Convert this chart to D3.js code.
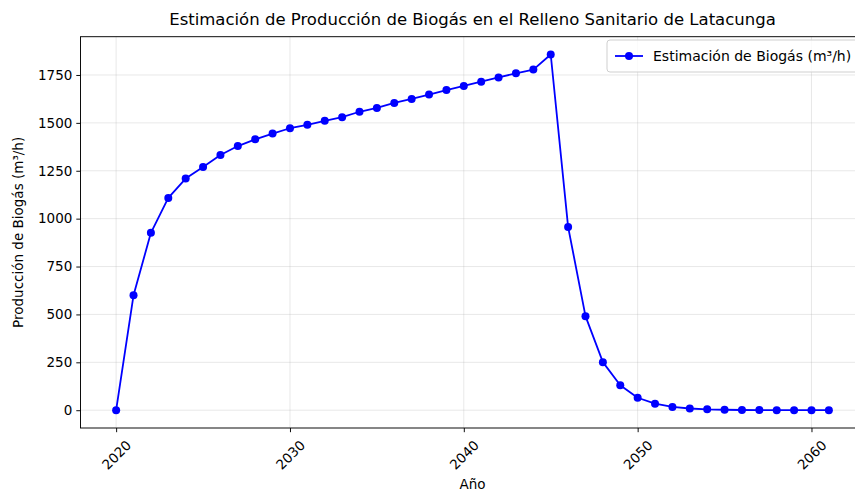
<!DOCTYPE html>
<html>
<head>
<meta charset="utf-8">
<script src="https://cdn.jsdelivr.net/npm/d3@7"></script>
<style>
  html, body { margin: 0; padding: 0; background: #fff; }
  svg { display: block; }
  svg text { font-family: "DejaVu Sans", sans-serif; }
</style>
</head>
<body>
<svg id="chart" width="855" height="491"></svg>
<script>
// ---- data ----
const years = [2020, 2021, 2022, 2023, 2024, 2025, 2026, 2027, 2028, 2029,
               2030, 2031, 2032, 2033, 2034, 2035, 2036, 2037, 2038, 2039,
               2040, 2041, 2042, 2043, 2044, 2045, 2046, 2047, 2048, 2049,
               2050, 2051, 2052, 2053, 2054, 2055, 2056, 2057, 2058, 2059,
               2060, 2061];
const biogas = [0, 600, 926, 1108, 1209, 1270, 1332, 1379, 1414, 1444,
                1472, 1490, 1511, 1530, 1558, 1578, 1604, 1625, 1648, 1671,
                1693, 1715, 1737, 1759, 1778, 1857, 957, 491, 251, 130,
                65, 34, 17, 9, 4.6, 2.4, 1.2, 0.6, 0.3, 0.2,
                0.1, 0.05];
const xTickValues = [2020, 2030, 2040, 2050, 2060];
const yTickValues = [0, 250, 500, 750, 1000, 1250, 1500, 1750];
const titleText = "Estimación de Producción de Biogás en el Relleno Sanitario de Latacunga";
const xLabel = "Año";
const yLabel = "Producción de Biogás (m³/h)";
const seriesName = "Estimación de Biogás (m³/h)";

// ---- layout ----
const plot = { left: 80.5, right: 864.5, top: 36.7, bottom: 428 };
const svg = d3.select("#chart");
const blue = "#0000ff";
const FONT = "DejaVu Sans, sans-serif";
const fs = 13.5;

const xMin = d3.min(years), xMax = d3.max(years);
const xPad = (xMax - xMin) * 0.05;
const yMin = d3.min(biogas), yMax = d3.max(biogas);
const yPad = (yMax - yMin) * 0.05;

const x = d3.scaleLinear().domain([xMin - xPad, xMax + xPad]).range([plot.left, plot.right]);
const y = d3.scaleLinear().domain([yMin - yPad, yMax + yPad]).range([plot.bottom, plot.top]);

// grid
const grid = svg.append("g").attr("stroke", "#b0b0b0").attr("stroke-opacity", 0.3).attr("stroke-width", 0.95);
grid.selectAll("line.gx").data(xTickValues).join("line")
  .attr("x1", d => x(d)).attr("x2", d => x(d))
  .attr("y1", plot.top).attr("y2", plot.bottom);
grid.selectAll("line.gy").data(yTickValues).join("line")
  .attr("x1", plot.left).attr("x2", plot.right)
  .attr("y1", d => y(d)).attr("y2", d => y(d));

// line + markers
const line = d3.line().x((d, i) => x(years[i])).y(d => y(d));
svg.append("path").datum(biogas)
  .attr("fill", "none").attr("stroke", blue).attr("stroke-width", 1.8)
  .attr("stroke-linejoin", "round")
  .attr("d", line);
svg.append("g").selectAll("circle").data(biogas).join("circle")
  .attr("cx", (d, i) => x(years[i])).attr("cy", d => y(d))
  .attr("r", 4).attr("fill", blue);

// axes
const xAxis = d3.axisBottom(x).tickValues(xTickValues).tickFormat(d3.format("d"))
  .tickSize(4.2).tickPadding(4);
const gx = svg.append("g").attr("transform", `translate(0,${plot.bottom})`)
  .call(xAxis).attr("font-family", FONT);
gx.select(".domain").remove();
gx.selectAll(".tick line").attr("stroke", "#000").attr("stroke-width", 0.95);
gx.selectAll(".tick text")
  .attr("font-size", fs).attr("fill", "#000")
  .attr("text-anchor", "middle")
  .attr("dy", "0.35em").attr("y", 0)
  .attr("transform", "translate(0,27) rotate(-45)");

const yAxis = d3.axisLeft(y).tickValues(yTickValues).tickFormat(d3.format("d"))
  .tickSize(4.2).tickPadding(4);
const gy = svg.append("g").attr("transform", `translate(${plot.left},0)`)
  .call(yAxis).attr("font-family", FONT);
gy.select(".domain").remove();
gy.selectAll(".tick line").attr("stroke", "#000").attr("stroke-width", 0.95);
gy.selectAll(".tick text").attr("font-size", fs).attr("fill", "#000");

// spines
svg.append("rect")
  .attr("x", plot.left).attr("y", plot.top)
  .attr("width", plot.right - plot.left).attr("height", plot.bottom - plot.top)
  .attr("fill", "none").attr("stroke", "#000").attr("stroke-width", 0.95);

// title & labels
svg.append("text").attr("x", (plot.left + plot.right) / 2).attr("y", 25)
  .attr("text-anchor", "middle").attr("font-size", 16.5).attr("fill", "#000")
  .text(titleText);
svg.append("text").attr("x", (plot.left + plot.right) / 2).attr("y", 489)
  .attr("text-anchor", "middle").attr("font-size", fs).attr("fill", "#000")
  .text(xLabel);
svg.append("text")
  .attr("transform", `translate(23,${(plot.top + plot.bottom) / 2}) rotate(-90)`)
  .attr("text-anchor", "middle").attr("font-size", fs).attr("fill", "#000")
  .text(yLabel);

// legend
const lg = svg.append("g").attr("transform", "translate(607,40)");
lg.append("rect").attr("x", 0).attr("y", 0).attr("width", 252).attr("height", 32)
  .attr("rx", 3).attr("fill", "#fff").attr("fill-opacity", 0.8)
  .attr("stroke", "#cccccc").attr("stroke-width", 0.95);
lg.append("line").attr("x1", 8).attr("x2", 36).attr("y1", 16).attr("y2", 16)
  .attr("stroke", blue).attr("stroke-width", 1.8);
lg.append("circle").attr("cx", 22).attr("cy", 16).attr("r", 4).attr("fill", blue);
lg.append("text").attr("x", 46).attr("y", 21).attr("font-size", 14).attr("fill", "#000")
  .text(seriesName);
</script>
</body>
</html>
